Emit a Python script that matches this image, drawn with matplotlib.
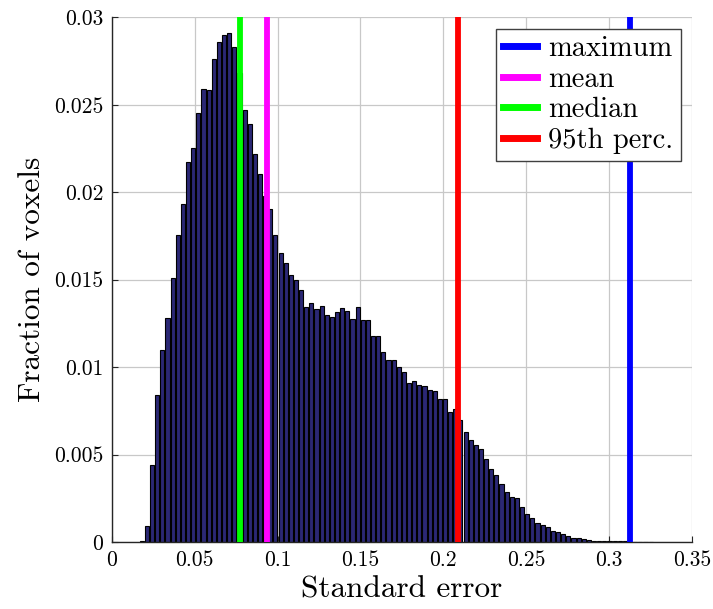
import numpy as np
import matplotlib
matplotlib.use("Agg")
import matplotlib.pyplot as plt
from matplotlib.ticker import FuncFormatter

plt.rcParams['font.family'] = 'cmr10'
plt.rcParams['axes.formatter.use_mathtext'] = True
plt.rcParams['mathtext.fontset'] = 'cm'

# histogram of the standard error, 100 bins
bin_start = 0.0169
bin_width = 0.0031
fraction = [0.00008, 0.00094, 0.00443, 0.00843, 0.01098, 0.0128, 0.01508, 0.01758, 0.01933, 0.02175,
            0.0225, 0.02455, 0.02589, 0.02583, 0.0276, 0.0286, 0.0290, 0.02913, 0.0283, 0.0268,
            0.0247, 0.0239, 0.02219, 0.02102, 0.01978, 0.01904, 0.01758, 0.01654, 0.01593, 0.01526,
            0.01496, 0.01443, 0.01344, 0.01368, 0.01335, 0.01348, 0.01298, 0.01287, 0.01314, 0.01337,
            0.01318, 0.01276, 0.01342, 0.0127, 0.01272, 0.01179, 0.01179, 0.01084, 0.01042, 0.0104,
            0.0100, 0.00971, 0.00911, 0.00918, 0.00897, 0.0089, 0.00869, 0.00863, 0.00817, 0.00817,
            0.00745, 0.00762, 0.0070, 0.00629, 0.00586, 0.00555, 0.00529, 0.00473, 0.0042, 0.00383,
            0.00333, 0.00286, 0.00258, 0.00252, 0.00199, 0.00159, 0.00138, 0.0011, 0.001, 0.00085,
            0.00061, 0.00057, 0.00045, 0.00036, 0.00021, 0.00021, 0.00017, 0.00009, 0.00008, 0.00007,
            0.00006, 0.00005, 0.00004, 0.00003, 0.00003, 0.00002, 0.00002, 0.00002, 0.00001, 0.00001]

# summary statistics drawn as vertical lines
stat_names = ['maximum', 'mean', 'median', '95th perc.']
stat_values = [0.3126, 0.0936, 0.0774, 0.209]
stat_colors = ['#0000ff', '#ff00ff', '#00ff00', '#ff0000']

x_ticks = [0, 0.05, 0.1, 0.15, 0.2, 0.25, 0.3, 0.35]
y_ticks = [0, 0.005, 0.01, 0.015, 0.02, 0.025, 0.03]

fig = plt.figure(figsize=(7.13, 6.09), dpi=100)
ax = fig.add_axes([0.1567, 0.110, 0.8138, 0.8616])

edges = bin_start + bin_width*np.arange(len(fraction))
ax.bar(edges, fraction, width=bin_width*0.8, align='edge',
       color='#2b2875', edgecolor='black', linewidth=0.8, zorder=2)

for name, val, col in zip(stat_names, stat_values, stat_colors):
    ax.axvline(val, color=col, linewidth=4.2, label=name, zorder=3)

ax.set_xlim(0, 0.35)
ax.set_ylim(0, 0.03)
ax.set_xticks(x_ticks)
ax.set_yticks(y_ticks)
fmt = FuncFormatter(lambda v, p: '%g' % v)
ax.xaxis.set_major_formatter(fmt)
ax.yaxis.set_major_formatter(fmt)

ax.grid(True, color='#c8c8c8', linewidth=0.9, zorder=0)
ax.set_axisbelow(True)
for s in ['top', 'right']:
    ax.spines[s].set_visible(False)
for s in ['left', 'bottom']:
    ax.spines[s].set_color('#262626')
    ax.spines[s].set_linewidth(1.0)
ax.tick_params(direction='in', length=4, width=0.8, color='#262626',
               labelsize=15.5, pad=6)

ax.set_xlabel('Standard error', fontsize=22.5, labelpad=4)
ax.set_ylabel('Fraction of voxels', fontsize=22.5, labelpad=6)

leg = ax.legend(loc='upper right', fontsize=20.5, fancybox=False, framealpha=1,
                edgecolor='#404040', handlelength=1.2, handletextpad=0.4,
                borderpad=0.25, labelspacing=0.15, borderaxespad=0.4)
leg.get_frame().set_linewidth(1.0)
for h in leg.get_lines():
    h.set_linewidth(5)

fig.savefig('out.png', dpi=100)
